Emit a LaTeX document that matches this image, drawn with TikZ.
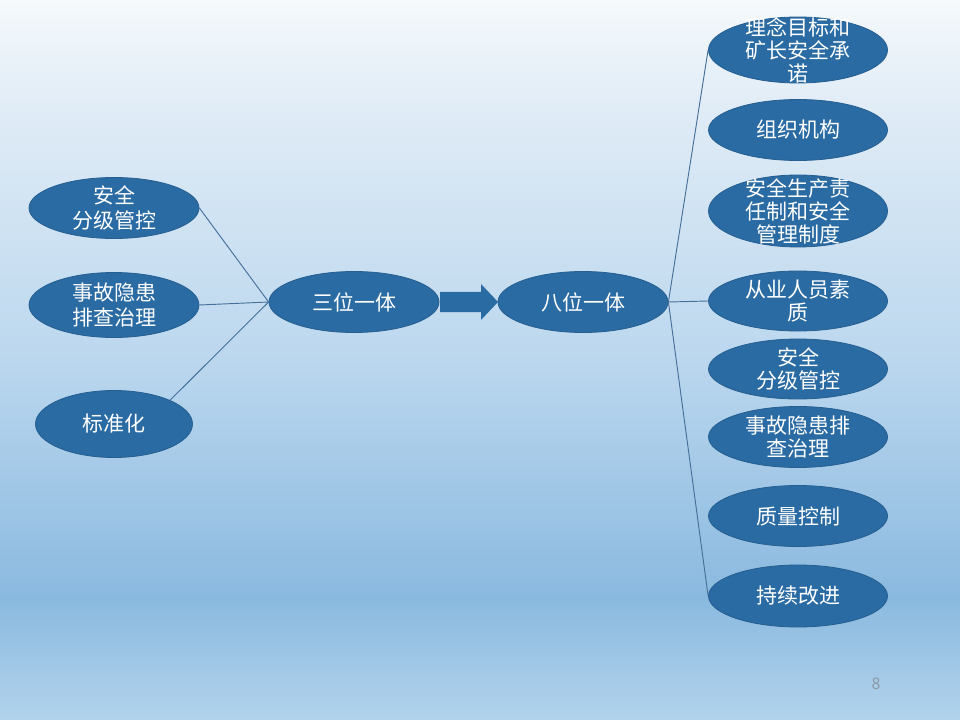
\documentclass[tikz,border=0pt]{standalone}
\usepackage{fontspec}
\setmainfont{Noto Sans CJK SC}
\usetikzlibrary{shapes.geometric}
\definecolor{bubfill}{HTML}{2A6BA3}
\definecolor{bubedge}{HTML}{255E90}
\definecolor{linkc}{HTML}{46709A}
\definecolor{bgA}{HTML}{B2D3EC}
\definecolor{bgB}{HTML}{8AB9DF}
\definecolor{bgC}{HTML}{BBD7EE}
\definecolor{bgD}{HTML}{E0ECF6}
\definecolor{bgE}{HTML}{F5F9FC}
\definecolor{pgc}{HTML}{8C99A6}
% the path's bounding box maps to 25bp..75bp of the shading
\pgfdeclareverticalshading{slidebg}{100bp}{color(0bp)=(bgA); color(25bp)=(bgA); color(33.5bp)=(bgB); color(50bp)=(bgC); color(67.5bp)=(bgD); color(75bp)=(bgE); color(100bp)=(bgE)}
\begin{document}
\begin{tikzpicture}[x=0.75pt,y=-0.75pt,
  bub/.style={ellipse, fill=bubfill, draw=bubedge, line width=0.6pt, inner sep=0pt},
  lab/.style={text=white, font=\fontsize{15.75}{17.25}\selectfont, align=center, inner sep=0pt},
  labwide/.style={lab, font=\fontsize{15.75}{18.75}\selectfont},
  link/.style={draw=linkc, line width=0.7pt}]
\useasboundingbox (0pt,0pt) rectangle (720pt,-540pt);
\shade[shading=slidebg] (0pt,0pt) rectangle (720pt,-540pt);

% left column
\node[bub, minimum width=127.5pt, minimum height=45.75pt] (L1) at (114,208) {};
\node[labwide] (L1t) at (L1) {安全\\分级管控};
\node[bub, minimum width=127.5pt, minimum height=48.75pt] (L2) at (114,305) {};
\node[labwide] (L2t) at (L2) {事故隐患\\排查治理};
\node[bub, minimum width=117.75pt, minimum height=50.25pt] (L3) at (114,424) {};
\node[lab] (L3t) at (L3) {标准化};

% centre
\node[bub, minimum width=127.5pt, minimum height=45.75pt] (C3) at (354,302) {};
\node[lab] (C3t) at (C3) {三位一体};
\node[bub, minimum width=127.5pt, minimum height=45.75pt] (C8) at (583,302) {};
\node[lab] (C8t) at (C8) {八位一体};
\fill[bubfill] (440,292) -- (481,292) -- (481,284) -- (498,302) -- (481,320) -- (481,312) -- (440,312) -- cycle;

% right column
\node[bub, minimum width=134.25pt, minimum height=49.5pt] (R1) at (798,50) {};
\node[lab] (R1t) at (R1) {理念目标和\\矿长安全承\\诺};
\node[bub, minimum width=134.25pt, minimum height=45.75pt] (R2) at (798,130) {};
\node[lab] (R2t) at (R2) {组织机构};
\node[bub, minimum width=134.25pt, minimum height=54pt] (R3) at (798,211) {};
\node[lab] (R3t) at (R3) {安全生产责\\任制和安全\\管理制度};
\node[bub, minimum width=134.25pt, minimum height=45pt] (R4) at (798,301) {};
\node[lab] (R4t) at (R4) {从业人员素\\质};
\node[bub, minimum width=134.25pt, minimum height=45pt] (R5) at (798,369) {};
\node[lab] (R5t) at (R5) {安全\\分级管控};
\node[bub, minimum width=134.25pt, minimum height=45.75pt] (R6) at (798,437) {};
\node[lab] (R6t) at (R6) {事故隐患排\\查治理};
\node[bub, minimum width=134.25pt, minimum height=45.75pt] (R7) at (798,516) {};
\node[lab] (R7t) at (R7) {质量控制};
\node[bub, minimum width=134.25pt, minimum height=46.5pt] (R8) at (798,596) {};
\node[lab] (R8t) at (R8) {持续改进};

% connectors
\draw[link] (L1.east) -- (C3.west);
\draw[link] (L2.east) -- (C3.west);
\draw[link] (L3.23) -- (C3.west);
\draw[link] (C8.east) -- (R1.west);
\draw[link] (C8.east) -- (R4.west);
\draw[link] (C8.east) -- (R8.west);

% page number
\node[text=pgc, font=\fontsize{12}{14}\selectfont, inner sep=0pt] (pg) at (876,684) {8};
\end{tikzpicture}
\end{document}
